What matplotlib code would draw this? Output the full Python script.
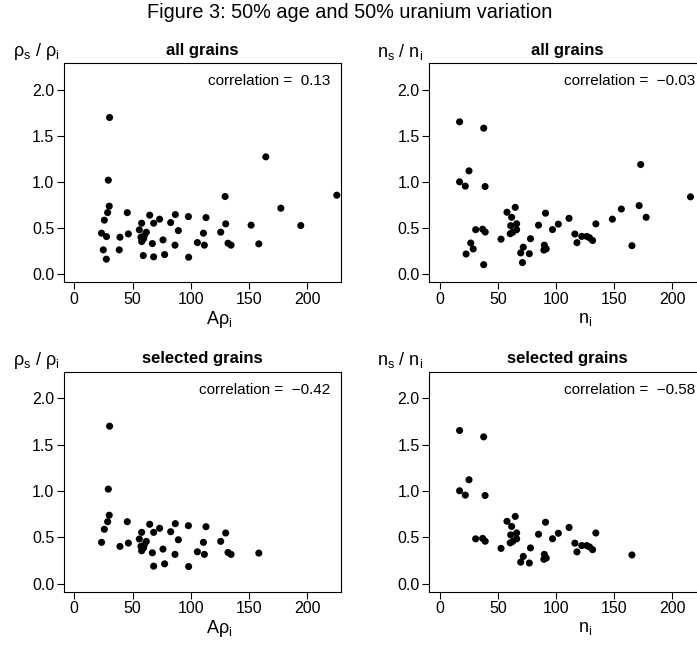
import matplotlib
matplotlib.use("Agg")
import matplotlib.pyplot as plt
import numpy as np

plt.rcParams['font.family'] = ['Liberation Sans', 'DejaVu Sans']
plt.rcParams['mathtext.fontset'] = 'custom'
plt.rcParams['mathtext.rm'] = 'Liberation Sans'
plt.rcParams['mathtext.it'] = 'Liberation Sans:italic'

# A*rho_i against rho_s/rho_i, one value per grain; sel = 1 for the selected grains
rho_x = [30.3, 29.2, 30.0, 28.6, 25.8, 23.4, 27.7, 24.9, 27.5, 45.5,
         39.2, 38.6, 46.4, 55.8, 57.8, 57.2, 57.8, 60.1, 61.8, 64.7,
         67.0, 68.1, 59.2, 68.1, 73.2, 76.1, 77.5, 82.7, 86.7, 86.4,
         89.3, 97.9, 98.1, 105.6, 110.8, 111.6, 113.0, 125.6, 129.4, 129.9,
         131.9, 134.5, 151.7, 158.3, 164.3, 177.2, 194.3, 225.2, 59.5]
rho_y = [1.70, 1.02, 0.738, 0.668, 0.586, 0.445, 0.408, 0.264, 0.163, 0.668,
         0.401, 0.264, 0.437, 0.481, 0.553, 0.401, 0.354, 0.419, 0.455, 0.640,
         0.332, 0.553, 0.202, 0.188, 0.597, 0.372, 0.213, 0.560, 0.647, 0.315,
         0.473, 0.625, 0.184, 0.343, 0.445, 0.315, 0.614, 0.456, 0.843, 0.546,
         0.336, 0.315, 0.532, 0.329, 1.273, 0.716, 0.528, 0.857, 0.385]
rho_sel = [1, 1, 1, 1, 1, 1, 0, 0, 0, 1,
           1, 0, 1, 1, 1, 1, 1, 1, 1, 1,
           1, 1, 0, 1, 1, 1, 1, 1, 1, 1,
           1, 1, 1, 1, 1, 1, 1, 1, 0, 1,
           1, 1, 0, 1, 0, 0, 0, 0, 1]

# n_i against n_s/n_i
n_x = [17.2, 37.9, 25.3, 17.2, 22.1, 39.1, 172.7, 215.5, 171.4, 177.4,
       156.1, 148.4, 134.2, 165.2, 57.9, 65.0, 61.9, 66.2, 61.1, 66.2,
       60.7, 52.8, 31.0, 37.0, 39.2, 26.8, 28.9, 22.8, 37.9, 69.7,
       71.9, 71.2, 77.1, 78.1, 85.0, 91.0, 97.0, 102.0, 90.0, 91.6,
       89.6, 111.2, 116.2, 118.0, 122.1, 126.4, 128.8, 131.4, 62.8]
n_y = [1.653, 1.584, 1.121, 1.002, 0.955, 0.951, 1.19, 0.839, 0.744, 0.617,
       0.707, 0.597, 0.546, 0.309, 0.672, 0.725, 0.617, 0.547, 0.526, 0.483,
       0.439, 0.380, 0.483, 0.488, 0.457, 0.338, 0.274, 0.219, 0.103, 0.231,
       0.293, 0.126, 0.222, 0.385, 0.532, 0.662, 0.484, 0.543, 0.315, 0.275,
       0.262, 0.606, 0.436, 0.342, 0.410, 0.410, 0.395, 0.366, 0.455]
n_sel = [1, 1, 1, 1, 1, 1, 0, 0, 0, 0,
         0, 0, 1, 1, 1, 1, 1, 1, 1, 1,
         1, 1, 1, 1, 1, 0, 0, 0, 0, 1,
         1, 0, 1, 1, 1, 1, 1, 1, 1, 1,
         1, 1, 1, 1, 1, 1, 1, 1, 1]

corr_labels = ["0.13", "\u22120.03", "\u22120.42", "\u22120.58"]
xticks = [0, 50, 100, 150, 200]
yticks = [0.0, 0.5, 1.0, 1.5, 2.0]

W, H = 697, 645
fig = plt.figure(figsize=(W / 100, H / 100), dpi=100)
fig.text(349.5 / W, 1 - 12.5 / H, "Figure 3: 50% age and 50% uranium variation",
         ha='center', va='center', fontsize=14.3)


def box(l, t, r, b):
    return [l / W, 1 - b / H, (r - l) / W, (b - t) / H]


rho_lab = "\u03c1$_\\mathrm{s}$ / \u03c1$_\\mathrm{i}$"
n_lab = "n$_\\mathrm{s}$ / n$_\\mathrm{i}$"
panels = [
    (box(64, 63.3, 341, 282.3), rho_x, rho_y, None, "all grains", 0,
     rho_lab, "A\u03c1$_\\mathrm{i}$", 13, 219),
    (box(429.3, 63.3, 706, 282.3), n_x, n_y, None, "all grains", 1,
     n_lab, "n$_\\mathrm{i}$", 377, 585),
    (box(64, 371.7, 341, 591.7), rho_x, rho_y, rho_sel, "selected grains", 2,
     rho_lab, "A\u03c1$_\\mathrm{i}$", 13, 219),
    (box(429.3, 371.7, 706, 591.7), n_x, n_y, n_sel, "selected grains", 3,
     n_lab, "n$_\\mathrm{i}$", 377, 585),
]

for rect, xs, ys, sel, title, k, ylab, xlab, ylab_x, xlab_x in panels:
    ax = fig.add_axes(rect)
    xs = np.array(xs)
    ys = np.array(ys)
    if sel is not None:
        m = np.array(sel) == 1
        xs, ys = xs[m], ys[m]
    ax.scatter(xs, ys, s=26, c='black', edgecolors='none', zorder=3)
    ax.set_xlim(-8.8, 228.8)
    ax.set_ylim(-0.088, 2.288)
    ax.set_xticks(xticks)
    ax.set_yticks(yticks)
    ax.set_yticklabels(["%.1f" % v for v in yticks])
    ax.tick_params(direction='out', length=5, width=0.8, labelsize=11.5, pad=2)
    for s in ax.spines.values():
        s.set_linewidth(0.8)
    ax.set_title(title, fontsize=12, fontweight='bold', pad=6)
    ax.annotate("correlation =  " + corr_labels[k], xy=(1, 1), xycoords='axes fraction',
                xytext=(-11, -18), textcoords='offset pixels',
                ha='right', va='center', fontsize=11)
    top_px = (1 - rect[1] - rect[3]) * H
    bot_px = (1 - rect[1]) * H
    fig.text(ylab_x / W, 1 - (top_px - 11.5) / H, ylab, ha='left', va='center', fontsize=13)
    fig.text(xlab_x / W, 1 - (bot_px + 37) / H, xlab, ha='center', va='center', fontsize=13)

fig.savefig("out.png", dpi=100)
